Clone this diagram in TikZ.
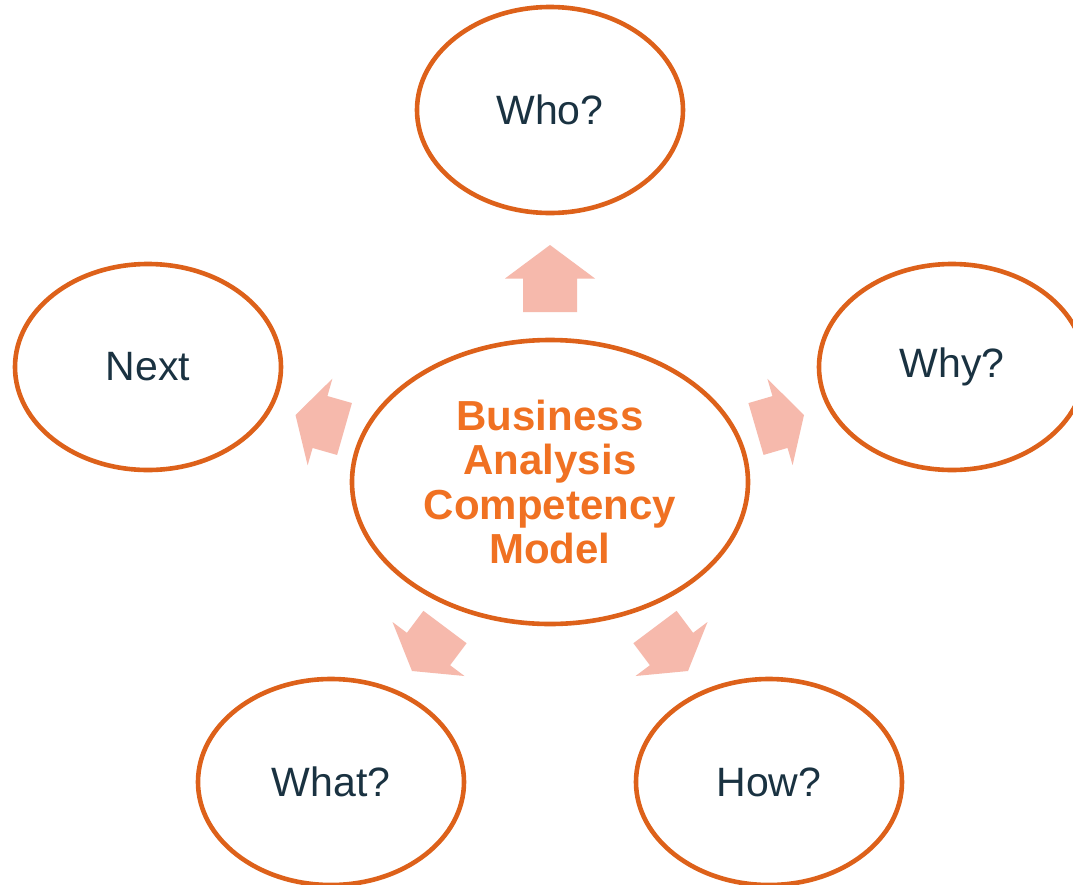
\documentclass[tikz,border=0pt]{standalone}
\usepackage{fontspec}
\setmainfont{Liberation Sans}
\usetikzlibrary{shapes.geometric,calc}
\definecolor{ringorange}{RGB}{221,97,26}
\definecolor{labeldark}{RGB}{26,50,65}
\definecolor{titleorange}{RGB}{240,113,34}
\definecolor{arrowpink}{RGB}{246,185,172}
% block arrow from a base point to a tip point
\newcommand{\blockarrow}[2]{%
  \coordinate (#1m) at ($(#1)!0.5!(#2)$);
  \fill[arrowpink] ($(#1)!13.5pt!90:(#2)$) -- ($(#1m)!13.5pt!90:(#2)$)
    -- ($(#1m)!22.5pt!90:(#2)$) -- (#2) -- ($(#1m)!22.5pt!-90:(#2)$)
    -- ($(#1m)!13.5pt!-90:(#2)$) -- ($(#1)!13.5pt!-90:(#2)$) -- cycle;}
\begin{document}
\begin{tikzpicture}[x=0.5pt,y=-0.5pt,
  ring/.style={ellipse,draw=ringorange,line width=2.3pt,fill=white,inner sep=0pt,
    minimum width=133pt,minimum height=103pt,text=labeldark,
    font=\fontsize{20.5}{24}\selectfont},
  hub/.style={ring,minimum width=198pt,minimum height=142pt,text=titleorange,
    align=center,font=\fontsize{21}{22.3}\selectfont\bfseries}]
	\fill[white] (0,0) rectangle (1073,885);
	\useasboundingbox (0,0) rectangle (1073,885);
	\node[hub] (model) at (550,482) {Business\\Analysis\\Competency\\Model};
	\node[ring] (who) at (550,110) {Who?};
	\node[ring] (why) at (952,367) {Why?};
	\node[ring] (how) at (769,782) {How?};
	\node[ring] (what) at (331,782) {What?};
	\node[ring] (next) at (148,367) {Next};
	% arrows out of the hub
	\coordinate (whobase) at (550,312); \coordinate (whotip) at (550,245);
	\coordinate (whybase) at (756,429); \coordinate (whytip) at (804,415);
	\coordinate (howbase) at (655,627); \coordinate (howtip) at (688,671);
	\coordinate (whatbase) at (445,627); \coordinate (whattip) at (412,671);
	\coordinate (nextbase) at (344.5,429); \coordinate (nexttip) at (295.5,415);
	\blockarrow{whobase}{whotip}
	\blockarrow{whybase}{whytip}
	\blockarrow{howbase}{howtip}
	\blockarrow{whatbase}{whattip}
	\blockarrow{nextbase}{nexttip}
\end{tikzpicture}
\end{document}
